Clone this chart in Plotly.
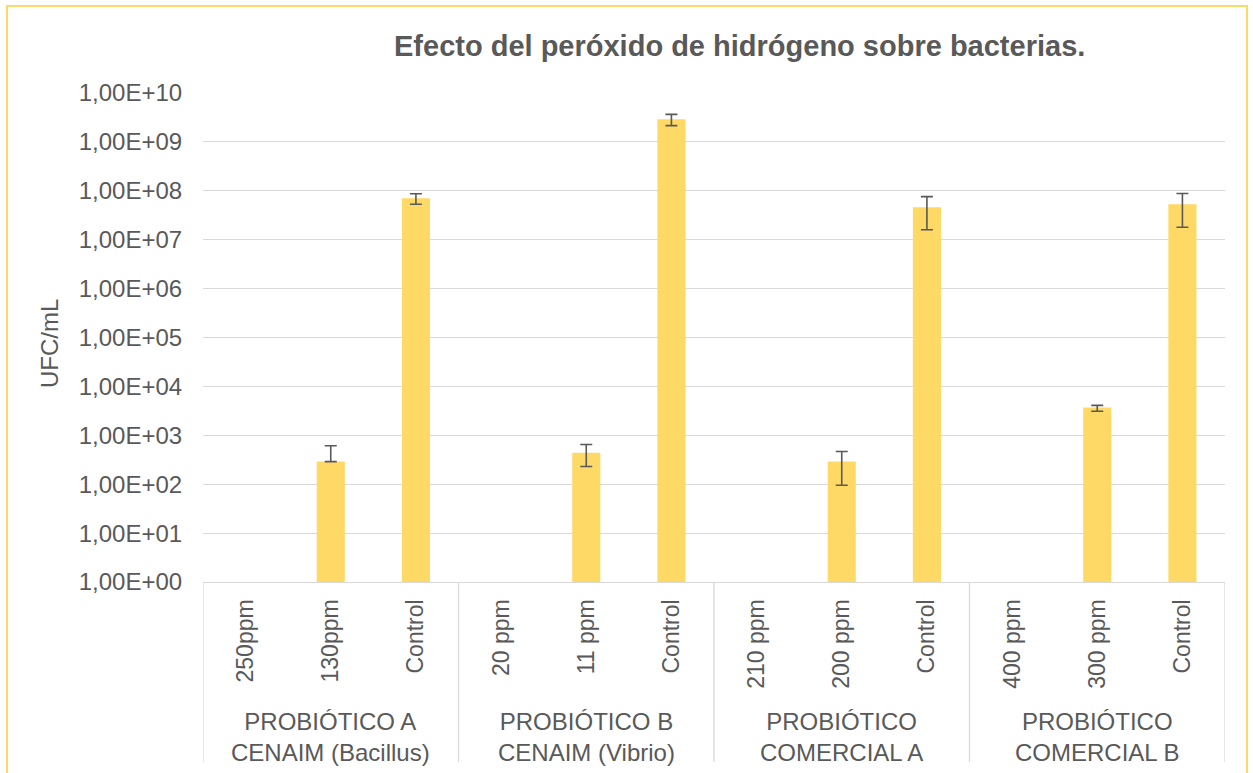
import plotly.graph_objects as go

# Treatments (x) and their product groups
treatments = ["250ppm", "130ppm", "Control",
              "20 ppm", "11 ppm", "Control",
              "210 ppm", "200 ppm", "Control",
              "400 ppm", "300 ppm", "Control"]
groups = ["PROBIÓTICO A<br>CENAIM (Bacillus)",
          "PROBIÓTICO B<br>CENAIM (Vibrio)",
          "PROBIÓTICO<br>COMERCIAL A",
          "PROBIÓTICO<br>COMERCIAL B"]

# UFC/mL per treatment (None = no growth)
ufc = [None, 290, 7.0e7,
       None, 440, 2.9e9,
       None, 290, 4.6e7,
       None, 3700, 5.3e7]
err_plus = [0, 320, 1.7e7,
            0, 210, 7.5e8,
            0, 175, 3.0e7,
            0, 400, 3.5e7]
err_minus = [0, 0, 1.7e7,
             0, 210, 7.5e8,
             0, 195, 3.0e7,
             0, 600, 3.5e7]

y_ticks = [1e0, 1e1, 1e2, 1e3, 1e4, 1e5, 1e6, 1e7, 1e8, 1e9, 1e10]
y_tick_labels = ["1,00E+00", "1,00E+01", "1,00E+02", "1,00E+03", "1,00E+04",
                 "1,00E+05", "1,00E+06", "1,00E+07", "1,00E+08", "1,00E+09",
                 "1,00E+10"]

W, H = 1253, 773
L, R, T, B = 203, 28, 93, 191
PW, PH = W - L - R, H - T - B
TXT = "#595959"
GRID = "#D9D9D9"
GOLD = "#FFD966"
FONT = "Liberation Sans, Arial, sans-serif"


def px_x(px):
    return (px - L) / PW


def px_y(py):
    return (T + PH - py) / PH


xs = list(range(len(treatments)))

fig = go.Figure(go.Bar(
    x=xs, y=ufc,
    marker=dict(color=GOLD, line=dict(width=0)),
    error_y=dict(type="data", symmetric=False, array=err_plus,
                 arrayminus=err_minus, color=TXT, thickness=1.6, width=6),
    hoverinfo="x+y",
))

shapes = []
# group separators below the axis
for xb in [-0.5, 2.5, 5.5, 8.5, 11.5]:
    shapes.append(dict(type="line", xref="x", yref="paper",
                       x0=xb, x1=xb, y0=0, y1=px_y(762),
                       line=dict(color=GRID, width=1.3)))
# outer chart frame
shapes.append(dict(type="rect", xref="paper", yref="paper",
                   x0=px_x(7), x1=px_x(1247), y0=px_y(800), y1=px_y(6),
                   line=dict(color=GOLD, width=2), fillcolor="rgba(0,0,0,0)",
                   layer="below"))

annotations = [
    dict(text="<b>Efecto del peróxido de hidrógeno sobre bacterias.</b>",
         xref="paper", yref="paper", x=px_x(739), y=px_y(46),
         xanchor="center", yanchor="middle", showarrow=False,
         font=dict(family=FONT, size=29, color=TXT)),
    dict(text="UFC/mL", xref="paper", yref="paper",
         x=px_x(49), y=px_y(344), xanchor="center", yanchor="middle",
         textangle=-90, showarrow=False,
         font=dict(family=FONT, size=24, color=TXT)),
]
for i, g in enumerate(groups):
    annotations.append(dict(text=g, xref="x", yref="paper",
                            x=3 * i + 1, y=px_y(737),
                            xanchor="center", yanchor="middle",
                            showarrow=False,
                            font=dict(family=FONT, size=24, color=TXT)))

fig.update_layout(
    width=W, height=H,
    margin=dict(l=L, r=R, t=T, b=B, pad=0),
    paper_bgcolor="white", plot_bgcolor="white",
    bargap=0.67, showlegend=False,
    font=dict(family=FONT, color=TXT),
    shapes=shapes, annotations=annotations,
    xaxis=dict(range=[-0.5, 11.5], tickmode="array", tickvals=xs,
               ticktext=treatments, tickangle=-90,
               tickfont=dict(family=FONT, size=23, color=TXT),
               ticks="outside", ticklen=7, tickcolor="rgba(0,0,0,0)",
               showgrid=False, showline=True, linecolor=GRID, linewidth=1.3,
               zeroline=False, fixedrange=True),
    yaxis=dict(type="log", range=[0, 10], tickmode="array",
               tickvals=y_ticks, ticktext=y_tick_labels,
               tickfont=dict(family=FONT, size=24, color=TXT),
               ticks="outside", ticklen=15, tickcolor="rgba(0,0,0,0)",
               showgrid=True, gridcolor=GRID, gridwidth=1.3,
               showline=False, zeroline=False, fixedrange=True),
)

fig.write_html("out.html")
